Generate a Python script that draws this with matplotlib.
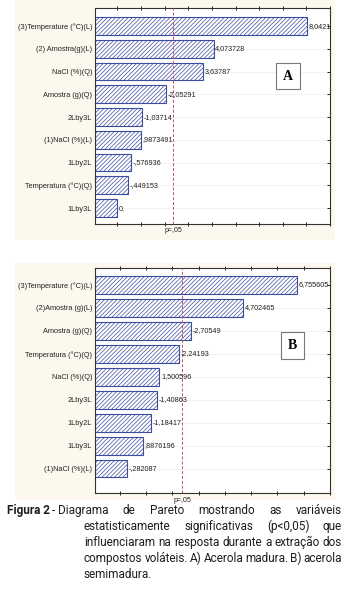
import numpy as np
import matplotlib.pyplot as plt
from matplotlib.patches import Rectangle

W, H = 358, 607

# --- dados: painel A (acerola madura)
labels_a = ["(3)Temperature (°C)(L)", "(2) Amostra(g)(L)", "NaCl (%)(Q)", "Amostra (g)(Q)",
            "2Lby3L", "(1)NaCl (%)(L)", "1Lby2L", "Temperatura (°C)(Q)", "1Lby3L"]
effects_a = [8.0421, 4.073728, 3.63787, -2.05291, -1.03714, 0.9873491, -0.576936, -0.449153, 0.0]
vtext_a = ["8,0421", "4,073728", "3,63787", "-2,05291", "-1,03714", ",9873491",
           "-,576936", "-,449153", "0,"]

# --- dados: painel B (acerola semimadura)
labels_b = ["(3)Temperature (°C)(L)", "(2)Amostra (g)(L)", "Amostra (g)(Q)", "Temperatura (°C)(Q)",
            "NaCl (%)(Q)", "2Lby3L", "1Lby2L", "1Lby3L", "(1)NaCl (%)(L)"]
effects_b = [6.755605, 4.702465, -2.70549, -2.24193, 1.500596, -1.40863, -1.18417, 0.8876196, -0.282087]
vtext_b = ["6,755605", "4,702465", "-2,70549", "-2,24193", "1,500596", "-1,40863",
           "-1,18417", ",8876196", "-,282087"]

p_crit = 2.365  # t(0,975; 7)

plt.rcParams['font.family'] = ['Liberation Sans', 'DejaVu Sans']
plt.rcParams['hatch.linewidth'] = 0.5
fig = plt.figure(figsize=(W / 100, H / 100), dpi=100)

def fx(px):
    return px / W

def fy(py):
    return 1 - py / H

# fundo creme dos paineis
for top, bot in [(0, 240), (263, 500)]:
    fig.patches.append(Rectangle((fx(15), fy(bot)), fx(335) - fx(15), fy(top) - fy(bot),
                                 transform=fig.transFigure, facecolor='#fcf8ee',
                                 edgecolor='none', zorder=-5))


def pareto(box, labels, effects, vtext, xmax, ylim, letter, letter_pos):
    left, top, right, bot = box
    ax = fig.add_axes([fx(left), fy(bot), fx(right) - fx(left), fy(top) - fy(bot)])
    x0 = -0.95
    y = np.arange(len(labels))
    vals = np.abs(effects)
    ax.barh(y, vals - x0, left=x0, height=0.78, color='white', edgecolor='#3d4c9e',
            hatch='////////', linewidth=0.8, zorder=2)
    for yi, v, t in zip(y, vals, vtext):
        ax.text(v + 0.06, yi, t, va='center', ha='left', fontsize=5.2, color='#222222', zorder=4)
    ax.axvline(p_crit, color='#d2466a', ls=(0, (3, 2)), lw=0.7, zorder=3)
    ax.annotate('p=,05', xy=(p_crit, 0), xycoords=('data', 'axes fraction'),
                xytext=(0, -2.5), textcoords='offset points', ha='center', va='top',
                fontsize=5, color='#222222')
    ax.set_xlim(x0, xmax)
    ax.set_ylim(*ylim)
    ax.set_yticks(y)
    ax.set_yticklabels(labels, fontsize=5.3, color='#222222')
    ax.set_xticks(np.arange(0, int(xmax) + 1))
    ax.set_xticklabels([])
    ax.tick_params(axis='y', left=False, right=True, direction='in', length=2, width=0.6, pad=2)
    ax.tick_params(axis='x', top=True, bottom=True, direction='inout', length=2.5, width=0.6)
    ax.yaxis.grid(True, color='#ededed', lw=0.5)
    ax.set_axisbelow(True)
    for s in ax.spines.values():
        s.set_linewidth(0.8)
        s.set_color('#333333')
    ax.text(letter_pos[0], letter_pos[1], letter, transform=ax.transAxes, fontsize=10,
            fontweight='bold', family='Liberation Serif', ha='center', va='center', zorder=5,
            bbox=dict(boxstyle='square,pad=0.5', fc='white', ec='#777777', lw=0.8))
    return ax


pareto((95, 8.3, 330, 224), labels_a, effects_a, vtext_a, 9.0, (8.7, -0.78), 'A', (0.82, 0.686))
pareto((95, 268.3, 330, 493.3), labels_b, effects_b, vtext_b, 8.0, (9.08, -0.73), 'B', (0.84, 0.657))

# legenda da figura, justificada
cap = dict(family=['Roboto', 'DejaVu Sans'], fontsize=8.5, color='#1e1e1e')
fig.canvas.draw()
rend = fig.canvas.get_renderer()


def put(px, base, s, **kw):
    return fig.text(fx(px), fy(base), s, va='baseline', ha='left', **cap, **kw)


def wpx(s, **kw):
    t = put(0, 300, s, **kw)
    w = t.get_window_extent(renderer=rend).width
    t.remove()
    return w


def justify(words, x_start, x_end, base):
    ws = [wpx(w) for w in words]
    gap = (x_end - x_start - sum(ws)) / (len(words) - 1)
    x = x_start
    for w, wd in zip(words, ws):
        put(x, base, w)
        x += wd + gap


put(7, 514, "Figura 2", fontweight='bold')
xd = 7 + wpx("Figura 2", fontweight='bold') + 2
put(xd, 514, "-")
justify("Diagrama de Pareto mostrando as variáveis".split(), xd + wpx("- "), 342, 514)
justify("estatisticamente significativas (p<0,05) que".split(), 84, 342, 530)
justify("influenciaram na resposta durante a extração dos".split(), 84, 342, 546)
justify("compostos voláteis. A) Acerola madura. B) acerola".split(), 84, 342, 562)
put(84, 577.5, "semimadura.")

fig.savefig('out.png', dpi=100)
